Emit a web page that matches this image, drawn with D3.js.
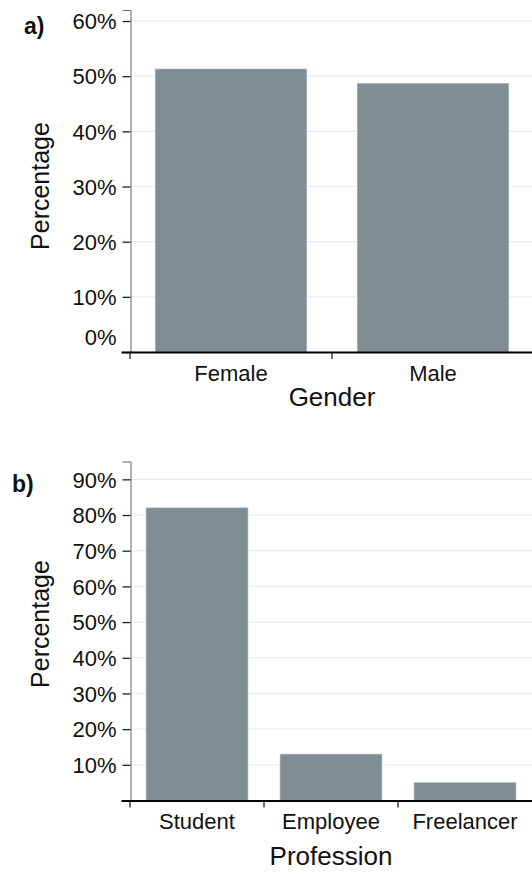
<!DOCTYPE html>
<html><head><meta charset="utf-8">
<script src="https://cdn.jsdelivr.net/npm/d3@7"></script>
<style>
body{margin:0;background:#fff;}
text{font-family:"Liberation Sans",Arial,Helvetica,sans-serif;fill:#111;}
</style></head>
<body>
<svg id="chart" width="532" height="876"></svg>
<script>
// Data
const genderCats = ["Female", "Male"];
const genderVals = [0.513, 0.487];
const genderTicks = [0, 0.1, 0.2, 0.3, 0.4, 0.5, 0.6];
const profCats = ["Student", "Employee", "Freelancer"];
const profVals = [0.82, 0.13, 0.05];
const profTicks = [0.1, 0.2, 0.3, 0.4, 0.5, 0.6, 0.7, 0.8, 0.9];

const svg = d3.select("#chart");
const barColor = "#7f8d94";
const fmt = d3.format(".0%");

function panel(opts){
  const g = svg.append("g");
  const x = d3.scaleBand().domain(opts.cats).range([130, opts.xEnd])
    .paddingInner(opts.pin).paddingOuter(opts.pout);
  const y = d3.scaleLinear().domain([0, opts.yTop]).range([opts.y0, opts.yTopPx]);

  // gridlines
  g.selectAll(".grid").data(opts.ticks).enter().append("line")
    .attr("x1", 130).attr("x2", 532)
    .attr("y1", d => y(d)).attr("y2", d => y(d))
    .attr("stroke", "#ececec").attr("stroke-width", 1.2);

  // bars
  g.selectAll(".bar").data(opts.cats).enter().append("rect")
    .attr("x", d => x(d)).attr("width", x.bandwidth())
    .attr("y", (d,i) => y(opts.vals[i]))
    .attr("height", (d,i) => y(0) - y(opts.vals[i]))
    .attr("fill", barColor).attr("stroke", "#a9b5bb").attr("stroke-width", 0.6);

  // y axis
  const yAxis = d3.axisLeft(y).tickValues(opts.ticks).tickSize(8).tickFormat(fmt);
  const ya = g.append("g").attr("transform", "translate(130.5,0)").call(yAxis);
  ya.select(".domain").attr("stroke", "#666").attr("stroke-width", 1);
  ya.selectAll(".tick line").attr("stroke", "#222").attr("stroke-width", 1.3);
  ya.selectAll(".tick text").attr("x", -14).attr("dy", "0.35em")
    .style("font-size", "22px").style("font-family", '"Liberation Sans",Arial,sans-serif').attr("fill", "#111")
    .attr("transform", d => d === 0 ? "translate(0,-15)" : null);

  // x axis line
  g.append("line").attr("x1", 121.5).attr("x2", 532)
    .attr("y1", y(0) + 0.5).attr("y2", y(0) + 0.5)
    .attr("stroke", "#000").attr("stroke-width", 2);
  // band boundary ticks
  g.selectAll(".xt").data(opts.cats).enter().append("line")
    .attr("x1", d => x(d) - x.step()*x.paddingInner()/2)
    .attr("x2", d => x(d) - x.step()*x.paddingInner()/2)
    .attr("y1", y(0) + 1).attr("y2", y(0) + 7)
    .attr("stroke", "#222").attr("stroke-width", 1.3);
  // category labels
  g.selectAll(".xl").data(opts.cats).enter().append("text")
    .attr("x", d => x(d) + x.bandwidth()/2).attr("y", opts.labY)
    .attr("text-anchor", "middle").style("font-size", "22px").text(d => d);
  // axis titles
  g.append("text").attr("x", (130 + opts.xEnd)/2).attr("y", opts.titleY)
    .attr("text-anchor", "middle").style("font-size", "26px").text(opts.xTitle);
  g.append("text").attr("transform", `translate(49,${opts.yTitleC}) rotate(-90)`)
    .attr("text-anchor", "middle").style("font-size", "25px").text("Percentage");
  g.append("text").attr("x", opts.letX).attr("y", opts.letY)
    .style("font-size", "23px").style("font-weight", "bold").text(opts.letter);
}

panel({cats: genderCats, vals: genderVals, ticks: genderTicks, xEnd: 534, pin: 0.25, pout: 0.125,
  yTop: 0.62, y0: 352, yTopPx: 10, labY: 381, titleY: 406, xTitle: "Gender", yTitleC: 186,
  letter: "a)", letX: 24, letY: 34});
panel({cats: profCats, vals: profVals, ticks: profTicks, xEnd: 532, pin: 0.24, pout: 0.12,
  yTop: 0.95, y0: 800.5, yTopPx: 461.5, labY: 829, titleY: 865, xTitle: "Profession", yTitleC: 624,
  letter: "b)", letX: 12, letY: 492});
</script>
</body></html>
